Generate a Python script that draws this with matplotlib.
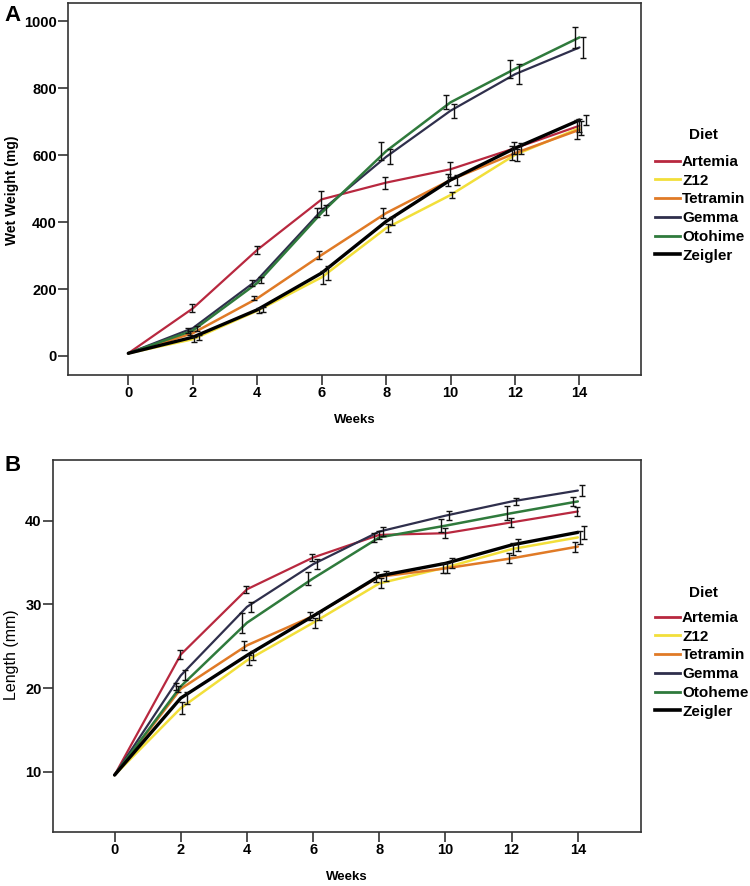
import matplotlib
matplotlib.use("Agg")
import matplotlib.pyplot as plt
from matplotlib.lines import Line2D
import numpy as np

weeks = [0, 2, 4, 6, 8, 10, 12, 14]
diets_a = ["Artemia", "Z12", "Tetramin", "Gemma", "Otohime", "Zeigler"]
diets_b = ["Artemia", "Z12", "Tetramin", "Gemma", "Otoheme", "Zeigler"]
colors = ["#b8283f", "#f2df3a", "#e07a26", "#2f2f4c", "#2f7a3c", "#000000"]
widths = [1.6, 1.8, 1.8, 1.6, 1.8, 2.4]
offsets = [-0.02, 0.05, -0.09, 0.12, -0.15, 0.19]

# Panel A: wet weight (mg)
w_artemia = [8, 142, 317, 468, 518, 558, 621, 688]
w_z12 = [8, 50, 135, 235, 382, 481, 601, 681]
w_tetramin = [8, 68, 172, 302, 427, 526, 606, 676]
w_gemma = [8, 83, 227, 435, 595, 733, 842, 922]
w_otohime = [8, 76, 218, 428, 612, 758, 858, 952]
w_zeigler = [8, 56, 138, 248, 402, 526, 621, 705]
we_artemia = [0, 12, 12, 25, 18, 22, 18, 20]
we_z12 = [0, 8, 8, 20, 12, 8, 18, 20]
we_tetramin = [0, 6, 6, 12, 14, 18, 20, 28]
we_gemma = [0, 8, 10, 15, 22, 21, 30, 32]
we_otohime = [0, 8, 8, 14, 26, 21, 26, 32]
we_zeigler = [0, 8, 8, 20, 12, 14, 16, 16]

# Panel B: length (mm)
l_artemia = [9.6, 24.0, 31.8, 35.6, 38.3, 38.5, 39.8, 41.1]
l_z12 = [9.6, 17.6, 23.3, 27.8, 32.5, 34.4, 36.6, 38.0]
l_tetramin = [9.6, 19.9, 25.1, 28.6, 33.3, 34.3, 35.5, 36.9]
l_gemma = [9.6, 21.5, 29.7, 34.8, 38.7, 40.6, 42.3, 43.6]
l_otohime = [9.6, 20.2, 27.8, 33.1, 38.0, 39.4, 40.9, 42.3]
l_zeigler = [9.6, 18.8, 23.9, 28.6, 33.4, 34.9, 37.1, 38.6]
le_artemia = [0, 0.5, 0.4, 0.4, 0.5, 0.6, 0.5, 0.5]
le_z12 = [0, 0.7, 0.6, 0.6, 0.6, 0.6, 0.7, 0.8]
le_tetramin = [0, 0.4, 0.5, 0.5, 0.6, 0.6, 0.6, 0.6]
le_gemma = [0, 0.6, 0.6, 0.6, 0.5, 0.5, 0.4, 0.7]
le_otohime = [0, 0.4, 1.2, 0.8, 0.5, 0.8, 0.8, 0.5]
le_zeigler = [0, 0.7, 0.5, 0.5, 0.6, 0.6, 0.7, 0.8]

wA = [w_artemia, w_z12, w_tetramin, w_gemma, w_otohime, w_zeigler]
eA = [we_artemia, we_z12, we_tetramin, we_gemma, we_otohime, we_zeigler]
lB = [l_artemia, l_z12, l_tetramin, l_gemma, l_otohime, l_zeigler]
eB = [le_artemia, le_z12, le_tetramin, le_gemma, le_otohime, le_zeigler]

plt.rcParams['font.family'] = ['Liberation Sans', 'DejaVu Sans']

W, H = 750, 886
fig = plt.figure(figsize=(W / 100, H / 100), dpi=100)
axA = fig.add_axes([0.0907, 0.5767, 0.7636, 0.42])
axB = fig.add_axes([0.0703, 0.0613, 0.784, 0.4195])

def draw(ax, vals, errs):
    x = np.array(weeks, dtype=float)
    for i, v in enumerate(vals):
        ax.plot(x, v, color=colors[i], lw=widths[i], zorder=3 + (i == 5), solid_capstyle='round')
    for i, (v, e) in enumerate(zip(vals, errs)):
        xe = x[1:] + offsets[i]
        ax.errorbar(xe, v[1:], yerr=e[1:], fmt='none', ecolor='#111111',
                    elinewidth=1.0, capsize=2.2, capthick=1.0, zorder=6)
    ax.set_xlim(-1.87, 15.9)
    ax.set_xticks(weeks)
    for s in ax.spines.values():
        s.set_linewidth(1.2)
        s.set_color('#333333')
    ax.tick_params(axis='both', direction='out', length=7, width=1.1, color='#222222',
                   pad=1, labelsize=10.5)

draw(axA, wA, eA)
axA.set_ylim(-57, 1055)
axA.set_yticks([0, 200, 400, 600, 800, 1000])
axA.set_xlabel("Weeks", fontweight='bold', fontsize=9.5, labelpad=10)

draw(axB, lB, eB)
axB.set_ylim(2.83, 47.25)
axB.set_yticks([10, 20, 30, 40])
axB.set_xlabel("Weeks", fontweight='bold', fontsize=9.5, labelpad=10)

for ax in (axA, axB):
    for lbl in ax.get_xticklabels() + ax.get_yticklabels():
        lbl.set_fontweight('bold')

fig.text(12 / W, 1 - 190 / H, "Wet Weight (mg)", rotation=90, fontweight='bold',
         fontsize=10, ha='center', va='center')
fig.text(12 / W, 1 - 655 / H, "Length (mm)", rotation=90, fontsize=11.5,
         ha='center', va='center')

hA = [Line2D([0], [0], color=colors[i], lw=2.0 if i < 5 else 2.6) for i in range(6)]
legkw = dict(frameon=False, handlelength=1.65, handletextpad=0.12, labelspacing=0.31,
             prop={'weight': 'bold', 'size': 11}, loc='upper left',
             borderaxespad=0, borderpad=0)
fig.legend(hA, diets_a, bbox_to_anchor=(655 / W, 1 - 155 / H), **legkw)
fig.legend(hA, diets_b, bbox_to_anchor=(655 / W, 1 - 611 / H), **legkw)
fig.text(703 / W, 1 - 135 / H, "Diet", fontweight='bold', fontsize=11, ha='center', va='center')
fig.text(703 / W, 1 - 593 / H, "Diet", fontweight='bold', fontsize=11, ha='center', va='center')

fig.text(4 / W, 1 - 5 / H, "A", fontsize=16, fontweight='bold', va='top', ha='left')
fig.text(4 / W, 1 - 455 / H, "B", fontsize=16, fontweight='bold', va='top', ha='left')

fig.savefig("out.png", dpi=100)
